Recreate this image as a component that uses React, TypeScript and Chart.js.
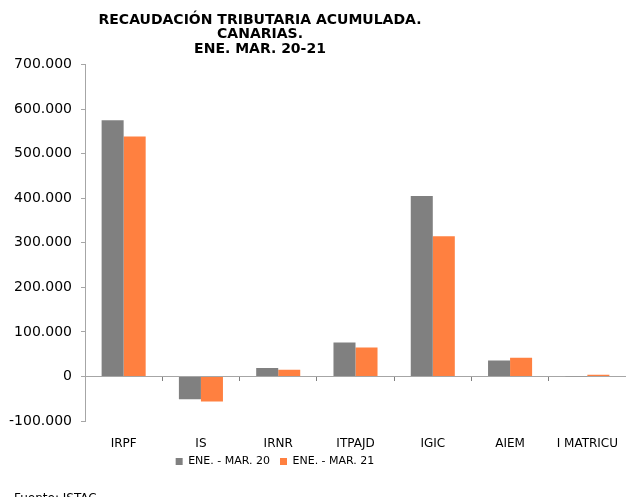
import React, { useEffect, useRef } from 'react';
import { Chart, registerables } from 'chart.js';

Chart.register(...registerables);

const categories = ['IRPF', 'IS', 'IRNR', 'ITPAJD', 'IGIC', 'AIEM', 'I MATRICU'];
const series2020 = [575000, -51000, 19000, 76000, 405000, 36000, 500];
const series2021 = [539000, -56000, 15000, 65000, 315000, 42000, 4000];
const seriesLabels = ['ENE. - MAR. 20', 'ENE. - MAR. 21'];
const seriesColors = ['#808080', '#FF8040'];
const titleLines = ['RECAUDACIÓN TRIBUTARIA ACUMULADA.', 'CANARIAS.', 'ENE. MAR. 20-21'];
const yMin = -100000;
const yMax = 700000;
const yStep = 100000;
const sourceNote = 'Fuente: ISTAC';

const FONT = '"DejaVu Sans", Verdana, sans-serif';

function formatThousands(v: number): string {
  const s = Math.abs(Math.round(v)).toString().replace(/\B(?=(\d{3})+(?!\d))/g, '.');
  return (v < 0 ? '-' : '') + s;
}

const shiftPlugin = {
  id: 'shiftBlocks',
  afterUpdate(chart: any) {
    const t = chart.titleBlock;
    if (t) {
      t.left -= 53;
      t.right -= 53;
    }
    const l = chart.legend;
    if (l) {
      l.left -= 38;
      l.right -= 38;
      l.top -= 7;
      l.bottom -= 7;
    }
  },
  afterDraw(chart: any) {
    const ctx = chart.ctx;
    ctx.save();
    ctx.font = '12px ' + FONT;
    ctx.fillStyle = '#000';
    ctx.textAlign = 'left';
    ctx.textBaseline = 'top';
    ctx.fillText(sourceNote, 14, 493);
    ctx.restore();
  },
};

export default function App() {
  const ref = useRef<HTMLCanvasElement>(null);
  useEffect(() => {
    if (!ref.current) return;
    const chart = new Chart(ref.current, {
      type: 'bar',
      data: {
        labels: categories,
        datasets: [
          { label: seriesLabels[0], data: series2020, backgroundColor: seriesColors[0], borderWidth: 0 },
          { label: seriesLabels[1], data: series2021, backgroundColor: seriesColors[1], borderWidth: 0 },
        ],
      },
      options: {
        responsive: false,
        animation: false,
        devicePixelRatio: 1,
        layout: { padding: { left: 0, right: 0, top: 0, bottom: 13 } },
        datasets: { bar: { categoryPercentage: 0.57, barPercentage: 1.0 } },
        scales: {
          x: {
            type: 'category',
            position: 'bottom',
            offset: true,
            grid: { display: false, drawTicks: false },
            border: { display: false },
            ticks: { color: '#000', font: { family: FONT, size: 12 }, padding: 16, maxRotation: 0, autoSkip: false },
            afterFit: (s: any) => { s.height = 32; s.paddingRight = 0; s.paddingLeft = 0; },
          },
          x0: {
            type: 'category',
            axis: 'x',
            position: { y: 0 },
            offset: true,
            grid: { display: true, drawOnChartArea: false, drawTicks: true, tickLength: 4, offset: true, color: '#7f7f7f' },
            border: { display: true, color: '#a6a6a6', width: 1 },
            ticks: { display: false },
            afterFit: (s: any) => { s.paddingRight = 0; s.paddingLeft = 0; },
          },
          y: {
            min: yMin,
            max: yMax,
            grid: { display: true, drawOnChartArea: false, drawTicks: true, tickLength: 4, color: '#a6a6a6' },
            border: { display: true, color: '#a6a6a6', width: 1 },
            ticks: {
              stepSize: yStep,
              color: '#000',
              padding: 9,
              font: { family: FONT, size: 14 },
              callback: (v: any) => formatThousands(Number(v)),
            },
            afterFit: (s: any) => { s.width = 85; },
          },
        },
        plugins: {
          title: {
            display: true,
            text: titleLines,
            color: '#000',
            font: { family: FONT, size: 14, weight: 'bold', lineHeight: 1.04 },
            padding: { top: 13, bottom: 8 },
          },
          legend: {
            display: true,
            position: 'bottom',
            labels: {
              color: '#000',
              font: { family: FONT, size: 11 },
              boxWidth: 7,
              boxHeight: 7,
              padding: 10,
            },
          },
          tooltip: { enabled: false },
        },
      },
      plugins: [shiftPlugin],
    } as any);
    return () => chart.destroy();
  }, []);
  return (
    <div style={{ position: 'fixed', left: 0, top: 0, width: 626, height: 497, background: '#fff' }}>
      <canvas ref={ref} width={626} height={497} style={{ width: 626, height: 497 }} />
    </div>
  );
}
